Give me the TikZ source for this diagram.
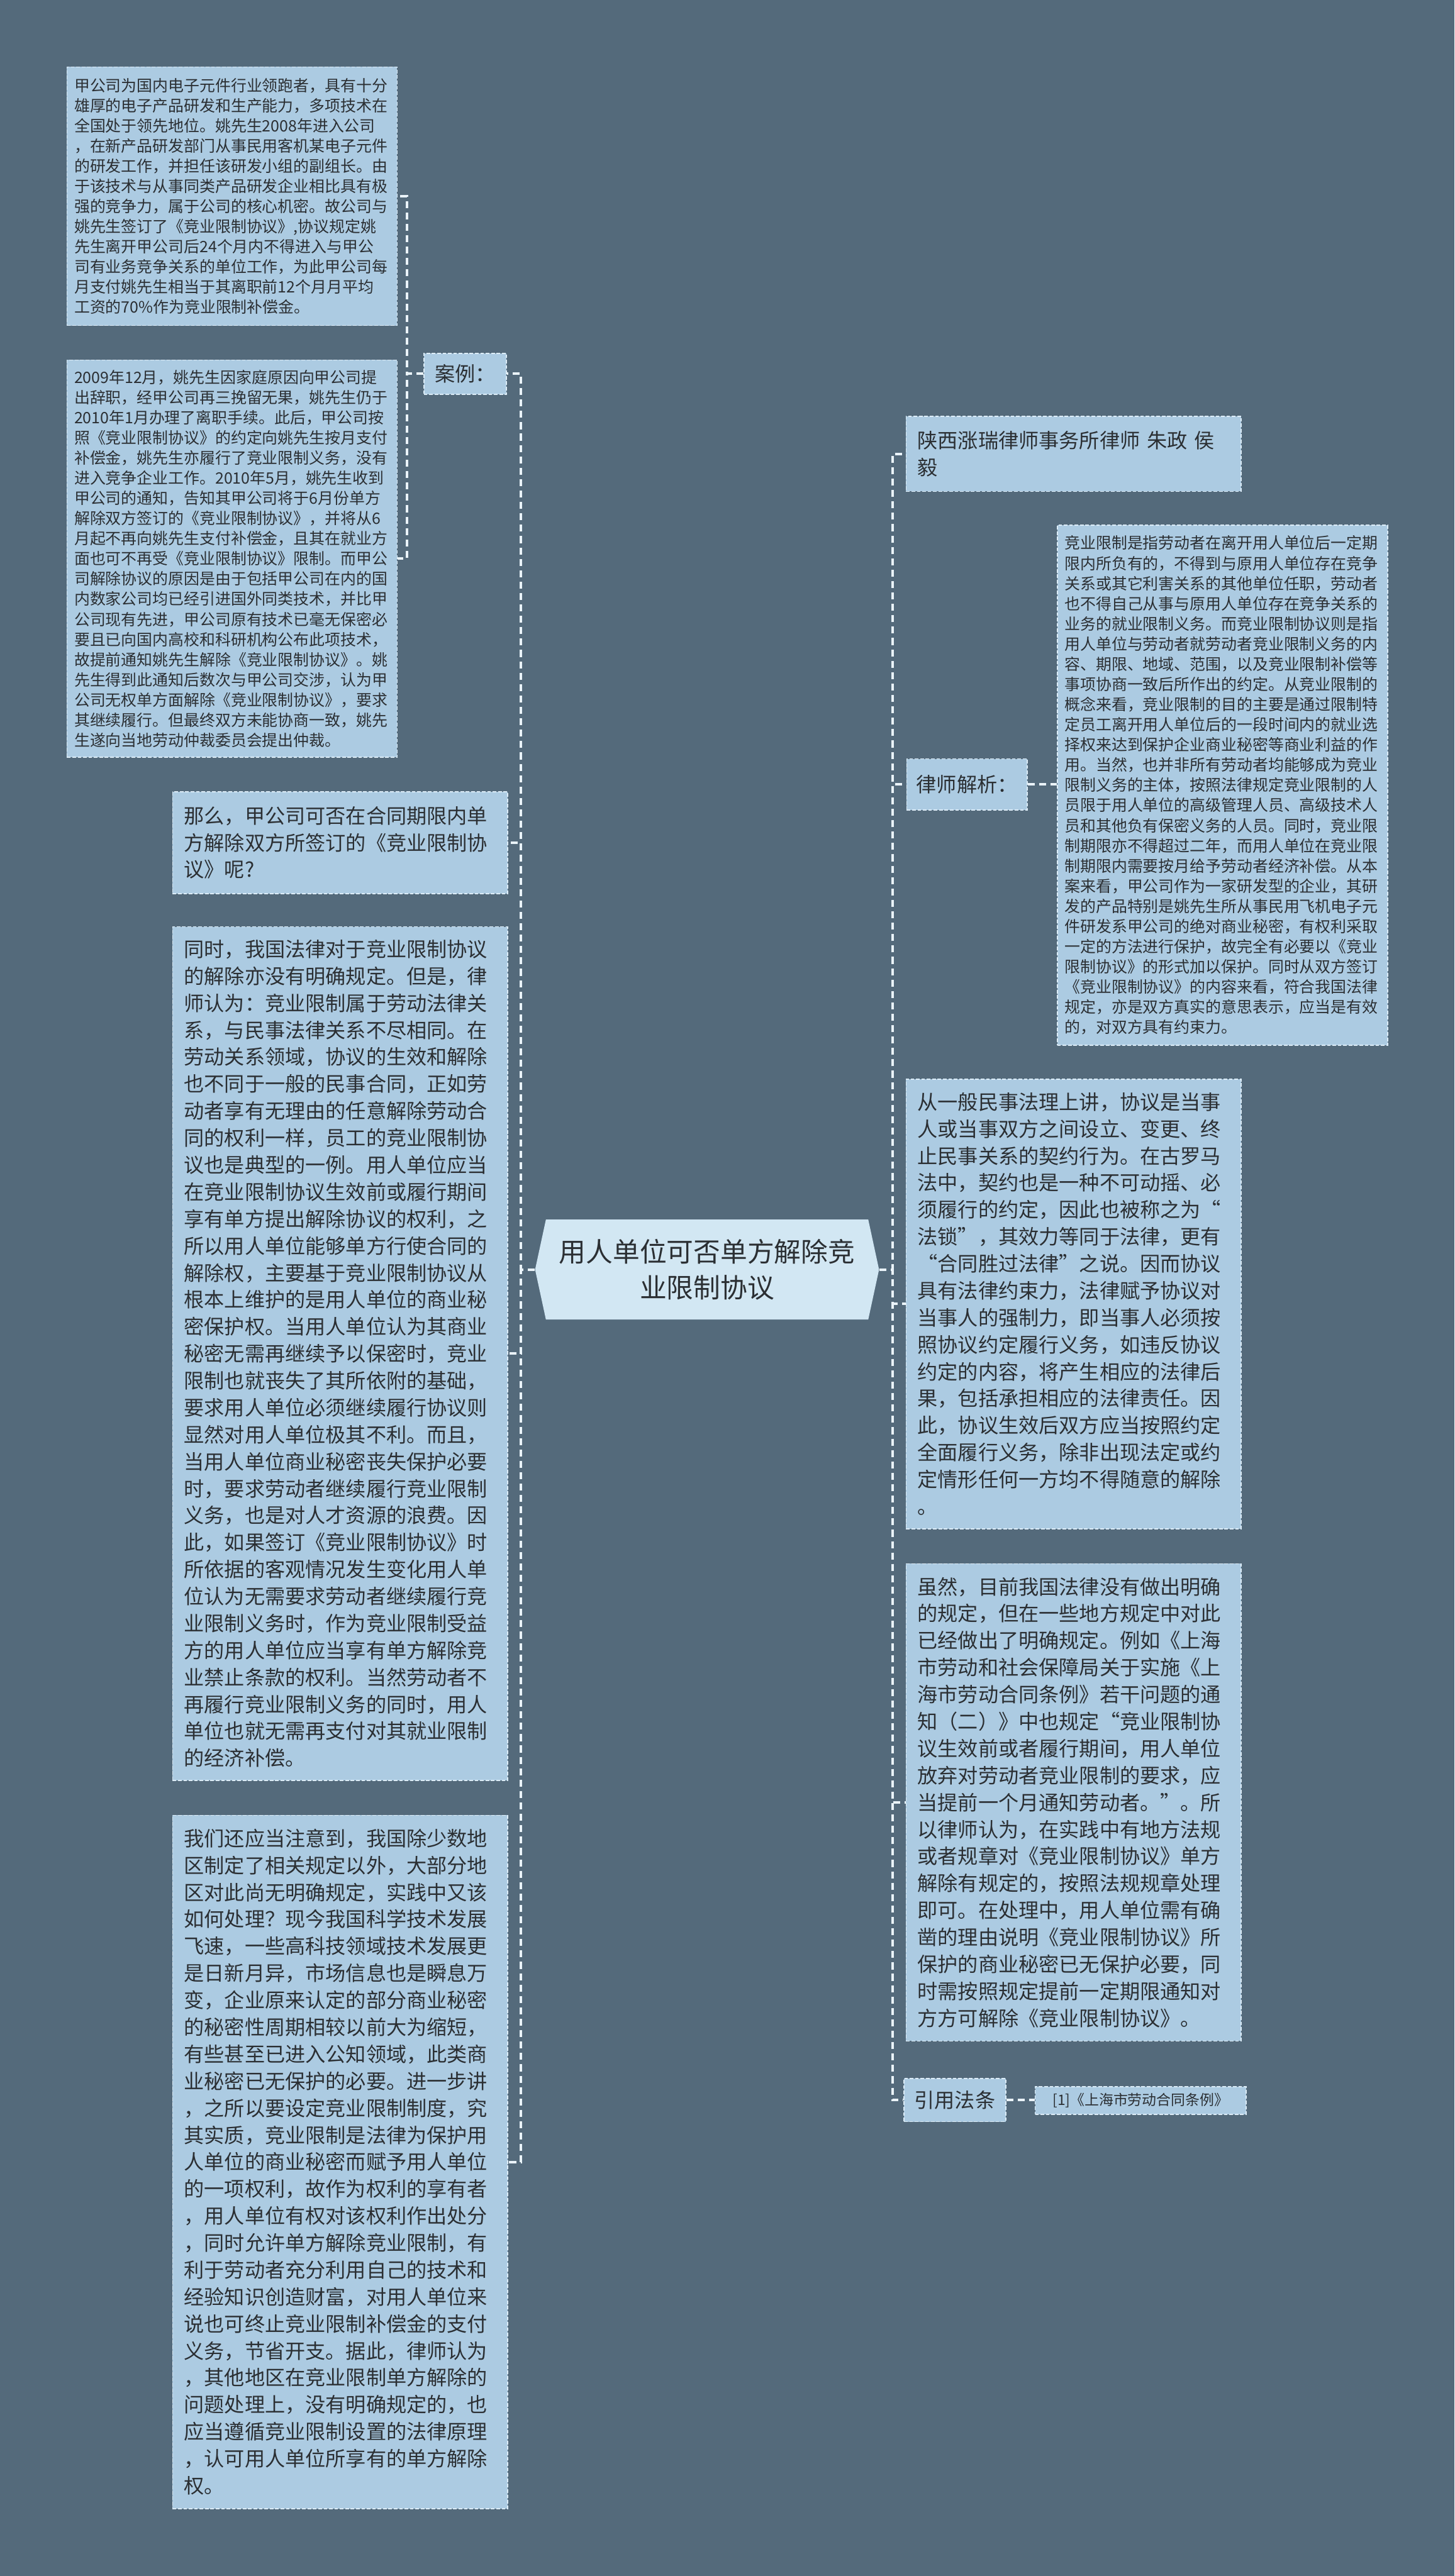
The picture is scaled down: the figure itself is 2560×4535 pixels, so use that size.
\documentclass[tikz,border=0pt]{standalone}
\usepackage{fontspec}
\setmainfont{Noto Sans CJK SC}

\definecolor{bgslate}{HTML}{546A7B}
\definecolor{boxblue}{HTML}{ACCBE2}
\definecolor{hubblue}{HTML}{D2E7F3}
\definecolor{edgeblue}{HTML}{DCECF7}
\definecolor{linkwhite}{HTML}{EAF3F9}
\definecolor{inkgray}{HTML}{2B2F33}

\newcommand{\smalltxt}{\fontsize{7.84pt}{10.1pt}\selectfont}
\newcommand{\bigtxt}{\fontsize{10.13pt}{13.5pt}\selectfont}
\newcommand{\hubtxt}{\fontsize{13.46pt}{18.2pt}\selectfont}
\newcommand{\reftxt}{\fontsize{7.2pt}{9pt}\selectfont}

\begin{document}
\begin{tikzpicture}[x=0.01cm, y=-0.01cm,
  card/.style={rectangle, fill=boxblue, draw=edgeblue, line width=0.5pt, dash pattern=on 1.8pt off 0.9pt, text=inkgray, align=left},
  smallcard/.style={card, font=\smalltxt, text width=5.55cm, inner xsep=0.13cm},
  bigcard/.style={card, font=\bigtxt, text width=5.49cm, inner xsep=0.2cm},
  tag/.style={card, font=\bigtxt, align=center, inner sep=0pt},
  link/.style={draw=linkwhite, line width=1.2pt, dash pattern=on 3.5pt off 2.2pt},
  hub/.style={rectangle, fill=bgslate, minimum width=6.05cm, minimum height=1.76cm, inner sep=0pt, font=\hubtxt, align=center, text=inkgray,
    path picture={\fill[hubblue] (path picture bounding box.west) -- ([xshift=0.19cm]path picture bounding box.north west) -- ([xshift=-0.19cm]path picture bounding box.north east) -- (path picture bounding box.east) -- ([xshift=-0.19cm]path picture bounding box.south east) -- ([xshift=0.19cm]path picture bounding box.south west) -- cycle;}}]

% drawing dimensions
\newcommand{\caseX}{408.5}
\newcommand{\colL}{598.5}
\newcommand{\colR}{1889.5}

% page
\useasboundingbox (0,0) rectangle (2560,4535);
\fill[bgslate] (0,0) rectangle (2560,4535);

% central topic
\node[hub] (hub) at (1244.5,2235) {用人单位可否单方解除竞\\业限制协议};

% left column: case
\node[tag, minimum width=1.45cm, minimum height=0.72cm] (caselbl) at (818.5,658) {案例：};

\node[smallcard, minimum height=4.55cm] (case1) at (\caseX,345.5) {甲公司为国内电子元件行业领跑者，具有十分\\
雄厚的电子产品研发和生产能力，多项技术在\\
全国处于领先地位。姚先生2008年进入公司\\
，在新产品研发部门从事民用客机某电子元件\\
的研发工作，并担任该研发小组的副组长。由\\
于该技术与从事同类产品研发企业相比具有极\\
强的竞争力，属于公司的核心机密。故公司与\\
姚先生签订了《竞业限制协议》,协议规定姚\\
先生离开甲公司后24个月内不得进入与甲公\\
司有业务竞争关系的单位工作，为此甲公司每\\
月支付姚先生相当于其离职前12个月月平均\\
工资的70\%作为竞业限制补偿金。};

\node[smallcard, minimum height=6.99cm] (case2) at (\caseX,983.5) {2009年12月，姚先生因家庭原因向甲公司提\\
出辞职，经甲公司再三挽留无果，姚先生仍于\\
2010年1月办理了离职手续。此后，甲公司按\\
照《竞业限制协议》的约定向姚先生按月支付\\
补偿金，姚先生亦履行了竞业限制义务，没有\\
进入竞争企业工作。2010年5月，姚先生收到\\
甲公司的通知，告知其甲公司将于6月份单方\\
解除双方签订的《竞业限制协议》，并将从6\\
月起不再向姚先生支付补偿金，且其在就业方\\
面也可不再受《竞业限制协议》限制。而甲公\\
司解除协议的原因是由于包括甲公司在内的国\\
内数家公司均已经引进国外同类技术，并比甲\\
公司现有先进，甲公司原有技术已毫无保密必\\
要且已向国内高校和科研机构公布此项技术，\\
故提前通知姚先生解除《竞业限制协议》。姚\\
先生得到此通知后数次与甲公司交涉，认为甲\\
公司无权单方面解除《竞业限制协议》，要求\\
其继续履行。但最终双方未能协商一致，姚先\\
生遂向当地劳动仲裁委员会提出仲裁。};

% left column: question and reasoning
\node[bigcard, minimum height=1.79cm] (quest) at (\colL,1483.5) {那么，甲公司可否在合同期限内单\\
方解除双方所签订的《竞业限制协\\
议》呢?};

\node[bigcard, minimum height=15.02cm] (reason1) at (\colL,2383) {同时，我国法律对于竞业限制协议\\
的解除亦没有明确规定。但是，律\\
师认为：竞业限制属于劳动法律关\\
系，与民事法律关系不尽相同。在\\
劳动关系领域，协议的生效和解除\\
也不同于一般的民事合同，正如劳\\
动者享有无理由的任意解除劳动合\\
同的权利一样，员工的竞业限制协\\
议也是典型的一例。用人单位应当\\
在竞业限制协议生效前或履行期间\\
享有单方提出解除协议的权利，之\\
所以用人单位能够单方行使合同的\\
解除权，主要基于竞业限制协议从\\
根本上维护的是用人单位的商业秘\\
密保护权。当用人单位认为其商业\\
秘密无需再继续予以保密时，竞业\\
限制也就丧失了其所依附的基础，\\
要求用人单位必须继续履行协议则\\
显然对用人单位极其不利。而且，\\
当用人单位商业秘密丧失保护必要\\
时，要求劳动者继续履行竞业限制\\
义务，也是对人才资源的浪费。因\\
此，如果签订《竞业限制协议》时\\
所依据的客观情况发生变化用人单\\
位认为无需要求劳动者继续履行竞\\
业限制义务时，作为竞业限制受益\\
方的用人单位应当享有单方解除竞\\
业禁止条款的权利。当然劳动者不\\
再履行竞业限制义务的同时，用人\\
单位也就无需再支付对其就业限制\\
的经济补偿。};

\node[bigcard, minimum height=12.2cm] (reason2) at (\colL,3806) {我们还应当注意到，我国除少数地\\
区制定了相关规定以外，大部分地\\
区对此尚无明确规定，实践中又该\\
如何处理？现今我国科学技术发展\\
飞速，一些高科技领域技术发展更\\
是日新月异，市场信息也是瞬息万\\
变，企业原来认定的部分商业秘密\\
的秘密性周期相较以前大为缩短，\\
有些甚至已进入公知领域，此类商\\
业秘密已无保护的必要。进一步讲\\
，之所以要设定竞业限制制度，究\\
其实质，竞业限制是法律为保护用\\
人单位的商业秘密而赋予用人单位\\
的一项权利，故作为权利的享有者\\
，用人单位有权对该权利作出处分\\
，同时允许单方解除竞业限制，有\\
利于劳动者充分利用自己的技术和\\
经验知识创造财富，对用人单位来\\
说也可终止竞业限制补偿金的支付\\
义务，节省开支。据此，律师认为\\
，其他地区在竞业限制单方解除的\\
问题处理上，没有明确规定的，也\\
应当遵循竞业限制设置的法律原理\\
，认可用人单位所享有的单方解除\\
权。};

% right column
\node[bigcard, minimum height=1.32cm] (author) at (\colR,799) {陕西涨瑞律师事务所律师 朱政 侯\\毅};

\node[tag, minimum width=2.12cm, minimum height=0.9cm] (analysis) at (1702,1381) {律师解析：};

\node[smallcard, minimum height=9.15cm] (defn) at (2151.5,1382.5) {竞业限制是指劳动者在离开用人单位后一定期\\
限内所负有的，不得到与原用人单位存在竞争\\
关系或其它利害关系的其他单位任职，劳动者\\
也不得自己从事与原用人单位存在竞争关系的\\
业务的就业限制义务。而竞业限制协议则是指\\
用人单位与劳动者就劳动者竞业限制义务的内\\
容、期限、地域、范围，以及竞业限制补偿等\\
事项协商一致后所作出的约定。从竞业限制的\\
概念来看，竞业限制的目的主要是通过限制特\\
定员工离开用人单位后的一段时间内的就业选\\
择权来达到保护企业商业秘密等商业利益的作\\
用。当然，也并非所有劳动者均能够成为竞业\\
限制义务的主体，按照法律规定竞业限制的人\\
员限于用人单位的高级管理人员、高级技术人\\
员和其他负有保密义务的人员。同时，竞业限\\
制期限亦不得超过二年，而用人单位在竞业限\\
制期限内需要按月给予劳动者经济补偿。从本\\
案来看，甲公司作为一家研发型的企业，其研\\
发的产品特别是姚先生所从事民用飞机电子元\\
件研发系甲公司的绝对商业秘密，有权利采取\\
一定的方法进行保护，故完全有必要以《竞业\\
限制协议》的形式加以保护。同时从双方签订\\
《竞业限制协议》的内容来看，符合我国法律\\
规定，亦是双方真实的意思表示，应当是有效\\
的，对双方具有约束力。};

\node[bigcard, minimum height=7.91cm] (civil) at (\colR,2295.5) {从一般民事法理上讲，协议是当事\\
人或当事双方之间设立、变更、终\\
止民事关系的契约行为。在古罗马\\
法中，契约也是一种不可动摇、必\\
须履行的约定，因此也被称之为“\\
法锁”，其效力等同于法律，更有\\
“合同胜过法律”之说。因而协议\\
具有法律约束力，法律赋予协议对\\
当事人的强制力，即当事人必须按\\
照协议约定履行义务，如违反协议\\
约定的内容，将产生相应的法律后\\
果，包括承担相应的法律责任。因\\
此，协议生效后双方应当按照约定\\
全面履行义务，除非出现法定或约\\
定情形任何一方均不得随意的解除\\
。};

\node[bigcard, minimum height=8.4cm] (local) at (\colR,3173) {虽然，目前我国法律没有做出明确\\
的规定，但在一些地方规定中对此\\
已经做出了明确规定。例如《上海\\
市劳动和社会保障局关于实施《上\\
海市劳动合同条例》若干问题的通\\
知（二）》中也规定“竞业限制协\\
议生效前或者履行期间，用人单位\\
放弃对劳动者竞业限制的要求，应\\
当提前一个月通知劳动者。”。所\\
以律师认为，在实践中有地方法规\\
或者规章对《竞业限制协议》单方\\
解除有规定的，按照法规规章处理\\
即可。在处理中，用人单位需有确\\
凿的理由说明《竞业限制协议》所\\
保护的商业秘密已无保护必要，同\\
时需按照规定提前一定期限通知对\\
方方可解除《竞业限制协议》。};

\node[tag, minimum width=1.79cm, minimum height=0.76cm] (lawlbl) at (1680.5,3697) {引用法条};

\node[tag, font=\reftxt, minimum width=3.71cm, minimum height=0.49cm] (lawref) at (2007.5,3698) {[1]《上海市劳动合同条例》};

% left connectors
\draw[link] (hub.west) -- ++(-24,0) |- (caselbl.east);
\draw[link] (hub.west) -- ++(-24,0) |- (quest.east);
\draw[link] (hub.west) -- ++(-24,0) |- (reason1.east);
\draw[link] (hub.west) -- ++(-24,0) |- (reason2.east);

% case bracket
\draw[link] (caselbl.west) -- ++(-29,0) |- (case1.east);
\draw[link] (caselbl.west) -- ++(-29,0) |- (case2.east);

% right connectors
\draw[link] (hub.east) -- ++(23,0) |- (author.west);
\draw[link] (hub.east) -- ++(23,0) |- (analysis.west);
\draw[link] (hub.east) -- ++(23,0) |- (civil.west);
\draw[link] (hub.east) -- ++(23,0) |- (local.west);
\draw[link] (hub.east) -- ++(23,0) |- (lawlbl.west);

% leaves
\draw[link] (analysis.east) -- (analysis.east -| defn.west);
\draw[link] (lawlbl.east) -- (lawlbl.east -| lawref.west);

\end{tikzpicture}
\end{document}
